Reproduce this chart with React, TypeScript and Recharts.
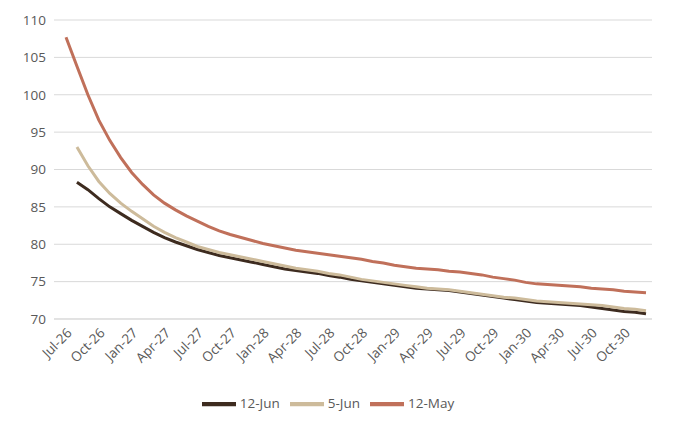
import { LineChart, Line, XAxis, YAxis, CartesianGrid, Legend } from "recharts";

const months = [
  "Jul-26","Aug-26","Sep-26","Oct-26","Nov-26","Dec-26",
  "Jan-27","Feb-27","Mar-27","Apr-27","May-27","Jun-27","Jul-27","Aug-27","Sep-27","Oct-27","Nov-27","Dec-27",
  "Jan-28","Feb-28","Mar-28","Apr-28","May-28","Jun-28","Jul-28","Aug-28","Sep-28","Oct-28","Nov-28","Dec-28",
  "Jan-29","Feb-29","Mar-29","Apr-29","May-29","Jun-29","Jul-29","Aug-29","Sep-29","Oct-29","Nov-29","Dec-29",
  "Jan-30","Feb-30","Mar-30","Apr-30","May-30","Jun-30","Jul-30","Aug-30","Sep-30","Oct-30","Nov-30","Dec-30",
];

const jun12 = [
  null,88.3,87.3,86.1,85.0,84.1,
  83.2,82.4,81.6,80.9,80.3,79.8,79.3,78.9,78.5,78.2,77.9,77.6,
  77.3,77.0,76.7,76.5,76.3,76.1,75.8,75.6,75.3,75.1,74.9,74.7,
  74.5,74.3,74.1,74.0,73.9,73.8,73.6,73.4,73.2,73.0,72.8,72.6,
  72.4,72.2,72.1,72.0,71.9,71.8,71.6,71.4,71.2,71.0,70.9,70.7,
];

const jun5 = [
  null,93.0,90.5,88.4,86.8,85.5,
  84.4,83.4,82.4,81.6,80.9,80.3,79.7,79.3,78.9,78.6,78.3,78.0,
  77.7,77.4,77.1,76.8,76.6,76.4,76.1,75.9,75.6,75.3,75.1,74.9,
  74.7,74.5,74.3,74.1,74.0,73.9,73.7,73.5,73.3,73.1,72.9,72.8,
  72.6,72.4,72.3,72.2,72.1,72.0,71.9,71.8,71.6,71.4,71.3,71.1,
];

const may12 = [
  107.7,103.8,100.0,96.6,93.9,91.6,
  89.6,88.0,86.6,85.5,84.6,83.8,83.1,82.4,81.8,81.3,80.9,80.5,
  80.1,79.8,79.5,79.2,79.0,78.8,78.6,78.4,78.2,78.0,77.7,77.5,
  77.2,77.0,76.8,76.7,76.6,76.4,76.3,76.1,75.9,75.6,75.4,75.2,
  74.9,74.7,74.6,74.5,74.4,74.3,74.1,74.0,73.9,73.7,73.6,73.5,
];

const yTicks = [70, 75, 80, 85, 90, 95, 100, 105, 110];

const data = months.map((m, i) => ({ m, jun12: jun12[i], jun5: jun5[i], may12: may12[i] }));

const tickStyle = { fontSize: 13.5, fill: "#595959", fontFamily: "Open Sans" };

export default function App() {
  return (
    <LineChart width={672} height={425} data={data} margin={{ top: 12, right: 28, bottom: 12, left: 6 }}
      style={{ fontFamily: "Open Sans" }}>
      <CartesianGrid vertical={false} stroke="#d9d9d9" />
      <XAxis dataKey="m" interval={2} tick={{ ...tickStyle, angle: -45, textAnchor: "end" } as any}
        tickLine={false} axisLine={{ stroke: "#d9d9d9" }} height={62} padding={{ left: 12, right: 6 }} />
      <YAxis domain={[70, 110]} ticks={yTicks} tick={tickStyle} tickLine={false} axisLine={false} width={40} />
      <Legend verticalAlign="bottom" iconType="plainline" iconSize={34} itemSorter={null as any}
        wrapperStyle={{ fontSize: 13.5, color: "#595959", paddingTop: 6 }}
        formatter={(v) => <span style={{ color: "#595959" }}>{v}</span>} />
      <Line dataKey="jun12" name="12-Jun" stroke="#3d2b1f" strokeWidth={3} dot={false} isAnimationActive={false} />
      <Line dataKey="jun5" name="5-Jun" stroke="#cdbb9b" strokeWidth={3} dot={false} isAnimationActive={false} />
      <Line dataKey="may12" name="12-May" stroke="#c0705a" strokeWidth={3} dot={false} isAnimationActive={false} />
    </LineChart>
  );
}
